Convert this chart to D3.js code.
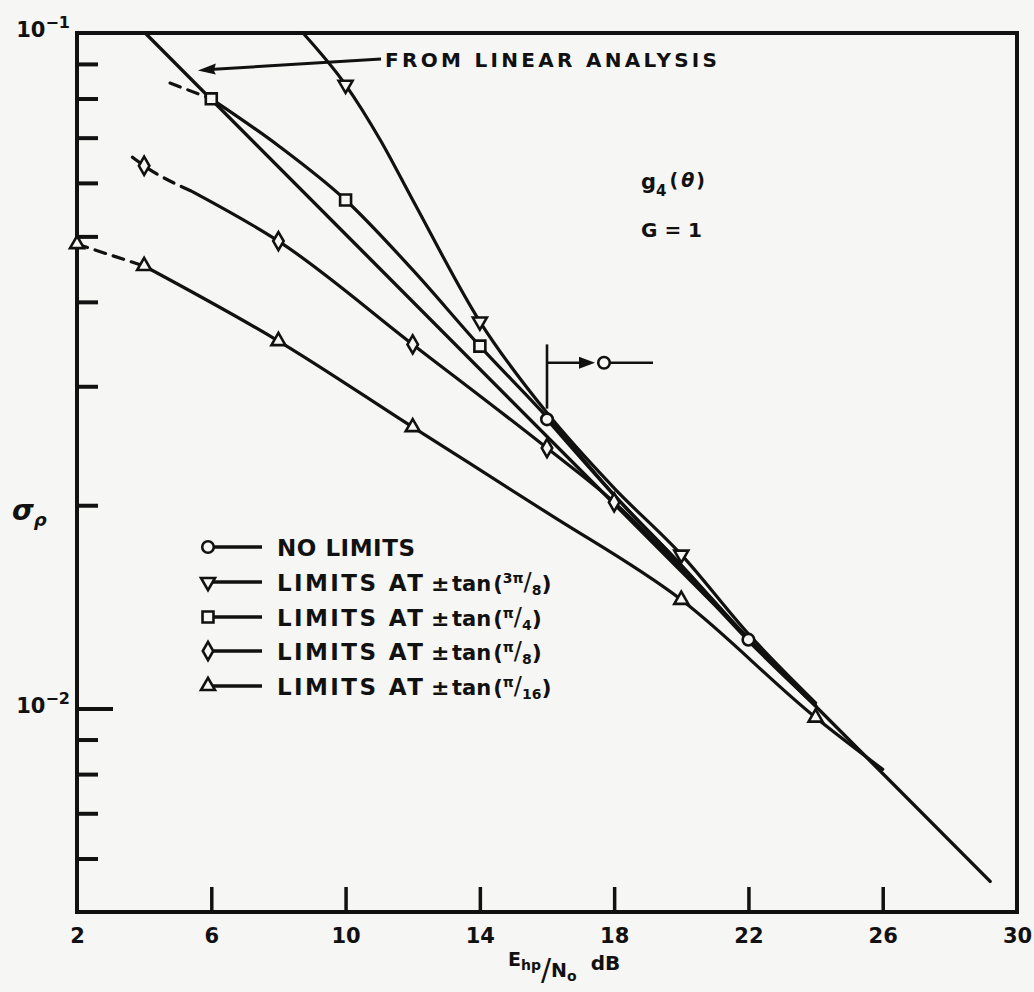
<!DOCTYPE html>
<html>
<head>
<meta charset="utf-8">
<script src="https://cdn.jsdelivr.net/npm/d3@7"></script>
<style>
  body { margin: 0; background: #f6f6f4; }
  text { font-family: "DejaVu Sans", sans-serif; font-weight: bold; fill: #111; }
</style>
</head>
<body>
<div id="chart"></div>
<script>
// sigma_rho against E_hp/N_o (dB), g4(theta), G = 1
const xTicks = [2, 6, 10, 14, 18, 22, 26, 30];
const yMinorTicks = [0.006, 0.007, 0.008, 0.009, 0.02, 0.03, 0.04, 0.05, 0.06, 0.07, 0.08, 0.09];

// straight line "from linear analysis"
const linearDb = [4.03, 29.2];
const linearSigma = [0.1, 0.00555];

// no limits (circles) - only from 16 dB up
const noLimDb = [16, 18, 20, 22, 24];
const noLimSigma = [0.0268, 0.0207, 0.0163, 0.01265, 0.0101];
const noLimMarks = [16, 22];

// limits at +-tan(3pi/8) (triangle down)
const tri38Db = [8.73, 10, 11.03, 12, 14, 16, 18, 20, 22, 24];
const tri38Sigma = [0.1, 0.0838, 0.0695, 0.0566, 0.0374, 0.0274, 0.0212, 0.0169, 0.0129, 0.0102];
const tri38Marks = [10, 14, 20];

// limits at +-tan(pi/4) (squares)
const sq4DashDb = [4.77, 6];
const sq4DashSigma = [0.0843, 0.0799];
const sq4Db = [6, 8, 10, 12, 14, 16, 18, 20, 22, 24];
const sq4Sigma = [0.0799, 0.0681, 0.0566, 0.0446, 0.0344, 0.0270, 0.0207, 0.0163, 0.0127, 0.0101];
const sq4Marks = [6, 10, 14];

// limits at +-tan(pi/8) (diamonds)
const dia8DashDb = [3.65, 4, 5.45];
const dia8DashSigma = [0.0655, 0.0636, 0.0582];
const dia8Db = [5.45, 8, 12, 16, 18, 20, 22, 24];
const dia8Sigma = [0.0582, 0.0492, 0.0346, 0.0243, 0.0202, 0.0161, 0.0126, 0.0101];
const dia8Marks = [4, 8, 12, 16, 18];

// limits at +-tan(pi/16) (triangle up)
const tri16DashDb = [2, 4];
const tri16DashSigma = [0.0487, 0.0452];
const tri16Db = [4, 8, 12, 16, 20, 24, 26];
const tri16Sigma = [0.0452, 0.0350, 0.0261, 0.0195, 0.01449, 0.0097, 0.00813];
const tri16Marks = [2, 4, 8, 12, 20, 24];

const legendNames = ["NO LIMITS", "LIMITS AT", "LIMITS AT", "LIMITS AT", "LIMITS AT"];
const legendNum = [null, "3π", "π", "π", "π"];
const legendDen = [null, "8", "4", "8", "16"];
const legendSymbols = ["circle", "tridown", "square", "diamond", "triup"];

const W = 1034, H = 992;
const x = d3.scaleLinear().domain([2, 30]).range([77, 1017]);
const y = d3.scaleLog().domain([0.005, 0.1]).range([912, 33]);

const svg = d3.select("#chart").append("svg")
  .attr("width", W).attr("height", H);

// frame
svg.append("rect")
  .attr("x", x(2)).attr("y", y(0.1))
  .attr("width", x(30) - x(2)).attr("height", y(0.005) - y(0.1))
  .attr("fill", "none").attr("stroke", "#111").attr("stroke-width", 4);

// x axis: ticks pointing up into the plot
const xAxis = svg.append("g")
  .attr("transform", "translate(0," + y(0.005) + ")")
  .call(d3.axisBottom(x).tickValues(xTicks).tickSizeInner(-25).tickSizeOuter(0).tickPadding(16));
xAxis.select(".domain").remove();
xAxis.selectAll("line").attr("stroke", "#111").attr("stroke-width", 3.5);
xAxis.selectAll("text").attr("font-size", 21).attr("font-family", "DejaVu Sans").attr("font-weight", "bold").attr("fill", "#111");
xAxis.selectAll(".tick").filter(d => d == 2 || d == 30).select("line").remove();

// y axis minor ticks
const yAxis = svg.append("g")
  .attr("transform", "translate(" + x(2) + ",0)")
  .call(d3.axisLeft(y).tickValues(yMinorTicks).tickSize(-21).tickFormat(""));
yAxis.select(".domain").remove();
yAxis.selectAll("line").attr("stroke", "#111").attr("stroke-width", 4);

const yMajor = svg.append("g")
  .attr("transform", "translate(" + x(2) + ",0)")
  .call(d3.axisLeft(y).tickValues([0.01]).tickSize(-36).tickFormat(""));
yMajor.select(".domain").remove();
yMajor.selectAll("line").attr("stroke", "#111").attr("stroke-width", 4);

// decade labels
function decadeLabel(v, exp, xr) {
  const t = svg.append("text").attr("x", xr).attr("y", y(v) + 4)
    .attr("text-anchor", "end").attr("font-size", 21);
  t.append("tspan").text("10");
  t.append("tspan").attr("font-size", 16).attr("dy", -9).text("−" + exp);
}
decadeLabel(0.1, "1", 70);
decadeLabel(0.01, "2", 70);

// lines
const line = d3.line().x(d => x(d[0])).y(d => y(d[1])).curve(d3.curveMonotoneX);
const zip = (a, b) => a.map((v, i) => [v, b[i]]);

const plot = svg.append("g");
function drawLine(dbs, sig, dashed, width) {
  plot.append("path")
    .datum(zip(dbs, sig))
    .attr("d", line)
    .attr("fill", "none")
    .attr("stroke", "#111")
    .attr("stroke-width", width || 3.2)
    .attr("stroke-linecap", "round")
    .attr("stroke-dasharray", dashed ? "11,8" : null);
}

drawLine(linearDb, linearSigma, false, 3.4);
drawLine(noLimDb, noLimSigma);
drawLine(tri38Db, tri38Sigma);
drawLine(sq4DashDb, sq4DashSigma, true);
drawLine(sq4Db, sq4Sigma);
drawLine(dia8DashDb, dia8DashSigma, true);
drawLine(dia8Db, dia8Sigma);
drawLine(tri16DashDb, tri16DashSigma, true);
drawLine(tri16Db, tri16Sigma);

// markers
const symbolOf = {
  circle: { type: d3.symbolCircle, size: 105, rot: 0 },
  square: { type: d3.symbolSquare, size: 120, rot: 0 },
  diamond: { type: d3.symbolDiamond, size: 95, rot: 0 },
  triup: { type: d3.symbolTriangle, size: 85, rot: 0 },
  tridown: { type: d3.symbolTriangle, size: 85, rot: 180 }
};
function marker(g, kind, px, py) {
  const s = symbolOf[kind];
  g.append("path")
    .attr("d", d3.symbol().type(s.type).size(s.size)())
    .attr("transform", "translate(" + px + "," + py + ") rotate(" + s.rot + ")")
    .attr("fill", "#f6f6f4")
    .attr("stroke", "#111")
    .attr("stroke-width", 2.6);
}
function drawMarks(marks, allDb, allSig, kind) {
  marks.forEach(m => {
    let i = allDb.indexOf(m);
    marker(plot, kind, x(allDb[i]), y(allSig[i]));
  });
}
drawMarks(noLimMarks, noLimDb, noLimSigma, "circle");
drawMarks(tri38Marks, tri38Db, tri38Sigma, "tridown");
drawMarks(sq4Marks, sq4Db, sq4Sigma, "square");
drawMarks(dia8Marks.filter(d => d != 4), dia8Db, dia8Sigma, "diamond");
drawMarks([4], dia8DashDb, dia8DashSigma, "diamond");
drawMarks(tri16Marks.filter(d => d > 2 && d != 4), tri16Db, tri16Sigma, "triup");
drawMarks([2, 4], tri16DashDb, tri16DashSigma, "triup");

// "from linear analysis" pointer
const ann = svg.append("g");
const tipX = x(5.6), tipY = y(0.088);
ann.append("line")
  .attr("x1", 381).attr("y1", 59).attr("x2", tipX + 12).attr("y2", tipY - 1)
  .attr("stroke", "#111").attr("stroke-width", 3);
ann.append("path")
  .attr("d", "M" + tipX + "," + tipY + " l18,-7 l-2,7 l2,4 z")
  .attr("fill", "#111");
ann.append("text").attr("x", 385).attr("y", 67).attr("font-size", 20)
  .attr("textLength", 332).attr("lengthAdjust", "spacing")
  .text("FROM LINEAR ANALYSIS");

// "no limits starts here" indicator at 16 dB
const ix = x(16);
ann.append("line").attr("x1", ix).attr("x2", ix).attr("y1", y(0.0346)).attr("y2", y(0.0278))
  .attr("stroke", "#111").attr("stroke-width", 2.6);
ann.append("line").attr("x1", ix).attr("x2", ix + 36).attr("y1", y(0.0325)).attr("y2", y(0.0325))
  .attr("stroke", "#111").attr("stroke-width", 2.6);
ann.append("path")
  .attr("d", "M" + (ix + 48) + "," + y(0.0325) + " l-16,-6 l0,12 z").attr("fill", "#111");
marker(ann, "circle", ix + 57, y(0.0325));
ann.append("line").attr("x1", ix + 63).attr("x2", ix + 106).attr("y1", y(0.0325)).attr("y2", y(0.0325))
  .attr("stroke", "#111").attr("stroke-width", 2.6);

// g4(theta), G = 1
const gt = svg.append("text").attr("x", 641).attr("y", 189).attr("font-size", 21);
gt.append("tspan").text("g");
gt.append("tspan").attr("font-size", 15).attr("dy", 7).text("4");
gt.append("tspan").attr("font-size", 19).attr("dy", -9).attr("dx", 3).text("(");
gt.append("tspan").attr("font-size", 19).attr("dx", 3).attr("font-style", "italic").text("θ");
gt.append("tspan").attr("font-size", 19).attr("dx", 2).text(")");
svg.append("text").attr("x", 641).attr("y", 237).attr("font-size", 20).text("G = 1");

// legend
const leg = svg.append("g");
const rowY = [547, 582, 617, 651, 686];
legendNames.forEach((name, i) => {
  const ry = rowY[i];
  leg.append("line").attr("x1", 212).attr("x2", 262).attr("y1", ry).attr("y2", ry)
    .attr("stroke", "#111").attr("stroke-width", 3.6);
  marker(leg, legendSymbols[i], 208, ry);
  const t = leg.append("text").attr("x", 277).attr("y", ry + 9).attr("font-size", 23);
  if (legendNum[i] == null) {
    t.attr("textLength", 138).attr("lengthAdjust", "spacing").text(name);
    return;
  }
  t.attr("textLength", 146).attr("lengthAdjust", "spacing").text(name);
  leg.append("text").attr("x", 431).attr("y", ry + 9).attr("font-size", 22).text("±");
  const f = leg.append("text").attr("x", 452).attr("y", ry + 9).attr("font-size", 21);
  f.append("tspan").text("tan");
  f.append("tspan").attr("dx", 2).text("(");
  f.append("tspan").attr("font-size", 14).attr("dy", -8).text(legendNum[i]);
  f.append("tspan").attr("font-size", 24).attr("font-weight", "normal").attr("dy", 7).text("/");
  f.append("tspan").attr("font-size", 14).attr("dy", 5).text(legendDen[i]);
  f.append("tspan").attr("font-size", 22).attr("dy", -4).text(")");
});

// y label sigma_rho
const yl = svg.append("text").attr("x", 12).attr("y", 520).attr("font-size", 28)
  .attr("font-family", "DejaVu Serif").attr("font-style", "italic");
yl.append("tspan").text("σ");
yl.append("tspan").attr("font-size", 18).attr("dy", 6).text("ρ");

// x label E_hp / N_o dB
const xl = svg.append("text").attr("x", 508).attr("y", 966).attr("font-size", 19);
xl.append("tspan").text("E");
xl.append("tspan").attr("font-size", 14).attr("dy", 4).text("hp");
xl.append("tspan").attr("font-size", 30).attr("font-weight", "normal").attr("dy", 10).text("/");
xl.append("tspan").attr("font-size", 19).attr("dy", -3).text("N");
xl.append("tspan").attr("font-size", 14).attr("dy", 4).text("o");
xl.append("tspan").attr("font-size", 20).attr("dy", -11).attr("dx", 14).text("dB");
</script>
</body>
</html>
